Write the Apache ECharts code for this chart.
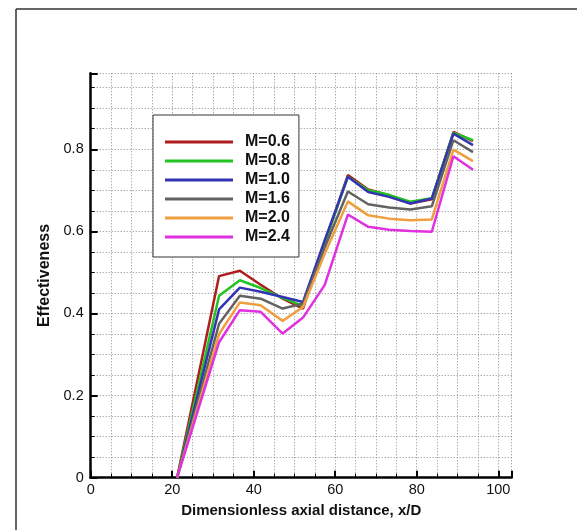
<!DOCTYPE html>
<html>
<head>
<meta charset="utf-8">
<script src="https://cdn.jsdelivr.net/npm/echarts@6/dist/echarts.min.js"></script>
<style>html,body{margin:0;padding:0;background:#fff}#c{width:577px;height:530px}</style>
</head>
<body>
<div id="c"></div>
<script>
const xPositions = [21.2, 31.5, 36.6, 41.7, 47.1, 52.1, 57.4, 63.1, 68.1, 73.2, 78.4, 83.7, 89.0, 93.8];
const seriesNames = ['M=0.6', 'M=0.8', 'M=1.0', 'M=1.6', 'M=2.0', 'M=2.4'];
const m06 = [0, 0.491, 0.504, 0.470, 0.436, 0.412, 0.570, 0.737, 0.702, 0.688, 0.668, 0.678, 0.842, 0.820];
const m08 = [0, 0.443, 0.481, 0.462, 0.438, 0.418, 0.572, 0.733, 0.700, 0.689, 0.672, 0.681, 0.840, 0.822];
const m10 = [0, 0.410, 0.463, 0.453, 0.440, 0.428, 0.578, 0.733, 0.696, 0.684, 0.668, 0.680, 0.838, 0.810];
const m16 = [0, 0.375, 0.443, 0.436, 0.412, 0.424, 0.560, 0.697, 0.666, 0.658, 0.653, 0.661, 0.822, 0.793];
const m20 = [0, 0.350, 0.427, 0.420, 0.382, 0.416, 0.545, 0.673, 0.639, 0.631, 0.627, 0.629, 0.799, 0.771];
const m24 = [0, 0.330, 0.408, 0.404, 0.351, 0.390, 0.469, 0.641, 0.611, 0.604, 0.601, 0.599, 0.783, 0.750];
const xTickLabels = ['0', '20', '40', '60', '80', '100'];
const yTickLabels = ['0', '0.2', '0.4', '0.6', '0.8'];

const allValues = [m06, m08, m10, m16, m20, m24];
const colors = ['#b01c1c', '#22c422', '#3333b4', '#626262', '#eea040', '#e030e0'];
const font = '"Liberation Sans", Arial, sans-serif';

const chart = echarts.init(document.getElementById('c'), null, {renderer: 'canvas'});
const grid = {left: 90.7, right: 65.3, top: 73.3, bottom: 52.3};
const dotted = {color: '#8a8a8a', width: 1, type: [1, 2]};

chart.setOption({
  animation: false,
  backgroundColor: '#fff',
  grid: grid,
  graphic: [
    {type: 'line', shape: {x1: 16, y1: 9, x2: 577, y2: 9}, style: {stroke: '#333', lineWidth: 1.5}, z: 100},
    {type: 'line', shape: {x1: 16, y1: 9, x2: 16, y2: 530}, style: {stroke: '#333', lineWidth: 1.5}, z: 100}
  ],
  legend: {
    orient: 'vertical',
    left: 153, top: 115,
    padding: [19, 9, 12, 12],
    itemGap: 3,
    itemWidth: 68, itemHeight: 3,
    icon: 'rect',
    backgroundColor: '#fff',
    borderColor: '#333', borderWidth: 1,
    data: seriesNames,
    textStyle: {fontFamily: font, fontWeight: 'bold', fontSize: 16, lineHeight: 16, color: '#111', padding: [0, 0, 0, 7]}
  },
  xAxis: {
    type: 'value', min: 0, max: 103.3, interval: 20,
    name: 'Dimensionless axial distance, x/D', nameLocation: 'middle', nameGap: 26,
    nameTextStyle: {fontFamily: font, fontWeight: 'bold', fontSize: 15, color: '#111'},
    axisLine: {show: true, onZero: false, lineStyle: {color: '#000', width: 2.5}},
    axisTick: {show: true, inside: true, length: 7, lineStyle: {color: '#000', width: 2}},
    minorTick: {show: true, splitNumber: 4, length: 4, lineStyle: {color: '#000', width: 1}},
    axisLabel: {margin: 5, fontFamily: font, fontSize: 14.5, color: '#111',
      formatter: v => xTickLabels[Math.round(v / 20)] ?? ''},
    splitLine: {show: true, lineStyle: dotted},
    minorSplitLine: {show: true, lineStyle: dotted}
  },
  yAxis: {
    type: 'value', min: 0, max: 0.985, interval: 0.2,
    name: 'Effectiveness', nameLocation: 'middle', nameGap: 33,
    nameTextStyle: {fontFamily: font, fontWeight: 'bold', fontSize: 16, color: '#111'},
    axisLine: {show: true, onZero: false, lineStyle: {color: '#000', width: 2.5}},
    axisTick: {show: true, inside: true, length: 7, lineStyle: {color: '#000', width: 2}},
    minorTick: {show: true, splitNumber: 4, length: 4, lineStyle: {color: '#000', width: 1}},
    axisLabel: {margin: 7, fontFamily: font, fontSize: 14.5, color: '#111',
      formatter: v => yTickLabels[Math.round(v / 0.2)] ?? ''},
    splitLine: {show: true, lineStyle: dotted},
    minorSplitLine: {show: true, lineStyle: dotted}
  },
  series: seriesNames.map((name, i) => ({
    name: name,
    type: 'line',
    showSymbol: false,
    symbol: 'none',
    color: colors[i],
    lineStyle: {width: 2.5, color: colors[i]},
    data: xPositions.map((x, j) => [x, allValues[i][j]]),
    z: 2 + i
  }))
});
</script>
</body>
</html>
